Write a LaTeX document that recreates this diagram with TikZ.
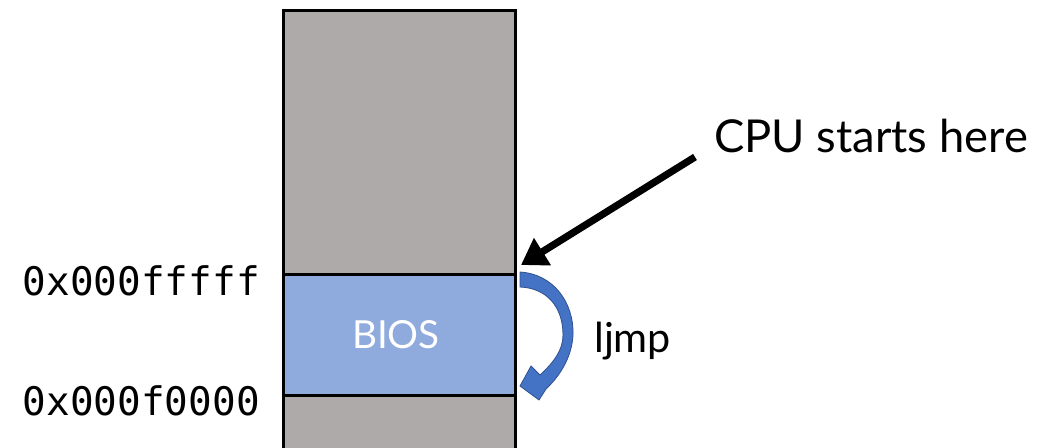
\documentclass[tikz,border=0pt]{standalone}
\usepackage{fontspec}
\setmainfont{Lato}
\newfontfamily\codefont{DejaVu Sans Mono}
\usetikzlibrary{arrows.meta}
\definecolor{memgray}{HTML}{AEAAAA}
\definecolor{biosblue}{HTML}{8FAADC}
\definecolor{jumpblue}{HTML}{4472C4}
\definecolor{jumpedge}{HTML}{2F528F}
\begin{document}
\begin{tikzpicture}[x=0.75pt,y=-0.75pt,
  region/.style={draw=black, line width=2.25pt, inner sep=0pt, outer sep=0pt, anchor=north west},
  addr/.style={font=\codefont\fontsize{29.5}{30}\selectfont, anchor=base east, inner sep=0pt},
  textlbl/.style={anchor=base west, inner sep=0pt}]
\useasboundingbox (0,0) rectangle (1046,447);
% memory column, running off the bottom edge
\begin{scope}
  \clip (0,0) rectangle (1046,447);
  \node[region, fill=memgray, minimum width=232*0.75pt, minimum height=460*0.75pt] (mem) at (283,10) {};
\end{scope}
% BIOS region
\node[region, fill=biosblue, minimum width=232*0.75pt, minimum height=121*0.75pt] (bios) at (283,274) {};
\node[font=\fontsize{29}{30}\selectfont, text=white, anchor=base, inner sep=0pt] (bioslabel) at (396,348) {BIOS};
% addresses
\node[addr] (hi) at (260,295) {0x000fffff};
\node[addr] (lo) at (260,415) {0x000f0000};
% annotations
\node[textlbl, font=\fontsize{34}{36}\selectfont] (cpu) at (714,152) {CPU starts here};
\node[textlbl, font=\fontsize{31}{33}\selectfont] (ljmp) at (594,352) {ljmp};
\coordinate (from) at (695,157);
\coordinate (entry) at (521,265);
\draw[line width=5.4pt, -{Triangle[length=19pt,width=23pt]}] (from) -- (entry);
% curved jump arrow
\filldraw[fill=jumpblue, draw=jumpedge, line width=0.6pt, line join=miter]
  (520,272) .. controls (553,274) and (574,302) .. (573,335)
  .. controls (572,354) and (563,373) .. (546,389)
  -- (539,400) -- (520,386) -- (531,366) -- (540,375)
  .. controls (554,362) and (563,350) .. (563,335)
  .. controls (563,306) and (546,288) .. (520,287) -- cycle;
\end{tikzpicture}
\end{document}
